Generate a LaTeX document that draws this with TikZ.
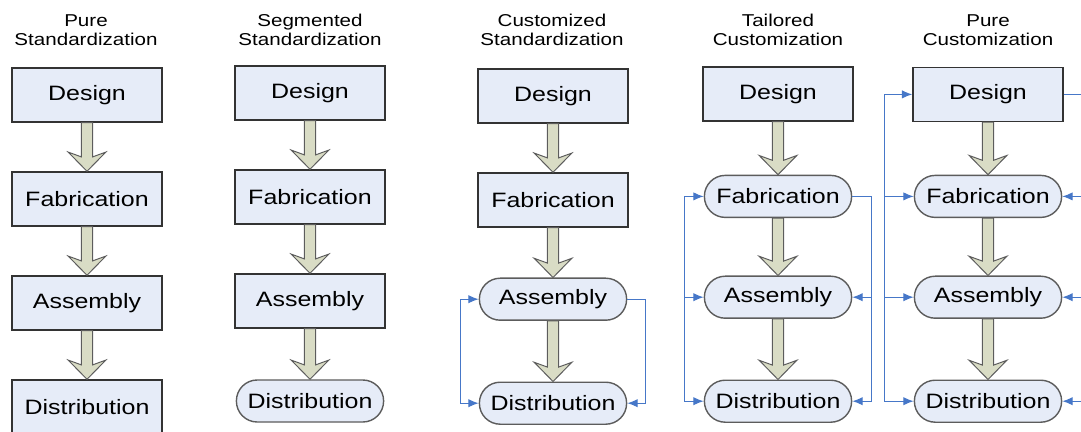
\documentclass[tikz,border=0pt]{standalone}
\usepackage{fontspec}
\setmainfont{Liberation Sans}[FakeStretch=1.2]
\usepackage{tikz}
\usetikzlibrary{shapes,arrows,arrows.meta,positioning,calc}
\definecolor{boxfill}{HTML}{E6ECF8}
\definecolor{boxline}{HTML}{333333}
\definecolor{fatfill}{HTML}{D9DCC5}
\definecolor{fbblue}{HTML}{4677C8}

% thick process arrow with a chevron head
\newcommand{\fatarrow}[2]{%
  \draw[fat] let \p1=(#1.south), \p2=(#2.north) in
    (\x1-0.14cm,\y1) -- (\x1-0.14cm,\y2+0.36cm) -- (\x1-0.47cm,\y2+0.48cm)
    -- (\x1,\y2) -- (\x1+0.47cm,\y2+0.48cm) -- (\x1+0.14cm,\y2+0.36cm)
    -- (\x1+0.14cm,\y1) -- cycle;}

\begin{document}
\begin{tikzpicture}[node distance=2.6cm,>={Latex[length=2.6mm,width=2.1mm]}]
\tikzstyle{box}=[rectangle, draw=boxline, fill=boxfill, line width=1pt, minimum width=3.75cm, minimum height=1.35cm, inner sep=0pt, font=\fontsize{14.8}{16}\selectfont]
\tikzstyle{pill}=[box, rounded corners=0.52cm, minimum width=3.68cm, minimum height=1.05cm, draw=boxline!80]
\tikzstyle{title}=[align=center, font=\fontsize{12.2}{13.6}\selectfont]
\tikzstyle{fat}=[fill=fatfill, draw=boxline!80, line width=0.7pt]
\tikzstyle{fb}=[draw=fbblue, line width=0.8pt]

\useasboundingbox (0,0) rectangle (27.025,-10.8);

% pure standardization
\node[title] (T1) at (2.15,-0.75) {Pure\\Standardization};
\node[box] (De1) at (2.175,-2.375) {Design};
\node[box][below of=De1] (F1) {Fabrication};
\node[box][below of=F1] (A1) {Assembly};
\node[box][below of=A1] (Di1) {Distribution};

% segmented standardization
\node[title] (T2) at (7.75,-0.75) {Segmented\\Standardization};
\node[box] (De2) at (7.75,-2.325) {Design};
\node[box][below of=De2] (F2) {Fabrication};
\node[box][below of=F2] (A2) {Assembly};
\node[pill][below of=A2, node distance=2.5cm] (Di2) {Distribution};

% customized standardization
\node[title] (T3) at (13.8,-0.75) {Customized\\Standardization};
\node[box] (De3) at (13.825,-2.4) {Design};
\node[box][below of=De3] (F3) {Fabrication};
\node[pill][node distance=2.48cm, below of=F3] (A3) {Assembly};
\node[pill][below of=A3] (Di3) {Distribution};

% tailored customization
\node[title] (T4) at (19.45,-0.75) {Tailored\\Customization};
\node[box] (De4) at (19.45,-2.35) {Design};
\node[pill][node distance=2.56cm, below of=De4] (F4) {Fabrication};
\node[pill][node distance=2.52cm, below of=F4] (A4) {Assembly};
\node[pill][below of=A4] (Di4) {Distribution};

% pure customization
\node[title] (T5) at (24.7,-0.75) {Pure\\Customization};
\node[box] (De5) at (24.7,-2.36) {Design};
\node[pill][node distance=2.55cm, below of=De5] (F5) {Fabrication};
\node[pill][node distance=2.52cm, below of=F5] (A5) {Assembly};
\node[pill][below of=A5] (Di5) {Distribution};

% process flow
\fatarrow{De1}{F1} \fatarrow{F1}{A1} \fatarrow{A1}{Di1}
\fatarrow{De2}{F2} \fatarrow{F2}{A2} \fatarrow{A2}{Di2}
\fatarrow{De3}{F3} \fatarrow{F3}{A3} \fatarrow{A3}{Di3}
\fatarrow{De4}{F4} \fatarrow{F4}{A4} \fatarrow{A4}{Di4}
\fatarrow{De5}{F5} \fatarrow{F5}{A5} \fatarrow{A5}{Di5}

% customer feedback loops
\draw[fb,<->] (A3.west) -- ++(-0.45,0) |- (Di3.west);
\draw[fb,->] (A3.east) -- ++(0.45,0) |- (Di3.east);

\draw[fb,<->] (F4.west) -- ++(-0.475,0) coordinate (l4) |- (Di4.west);
\draw[fb,->] (A4.west -| l4) -- (A4.west);
\draw[fb,->] (F4.east) -- ++(0.475,0) coordinate (r4) |- (Di4.east);
\draw[fb,->] (A4.east -| r4) -- (A4.east);

\draw[fb,<->] (De5.west) -- ++(-0.7,0) coordinate (l5) |- (Di5.west);
\draw[fb,->] (F5.west -| l5) -- (F5.west);
\draw[fb,->] (A5.west -| l5) -- (A5.west);
\draw[fb,->] (De5.east) -- ++(0.85,0) coordinate (r5) |- (Di5.east);
\draw[fb,->] (F5.east -| r5) -- (F5.east);
\draw[fb,->] (A5.east -| r5) -- (A5.east);
\end{tikzpicture}
\end{document}
